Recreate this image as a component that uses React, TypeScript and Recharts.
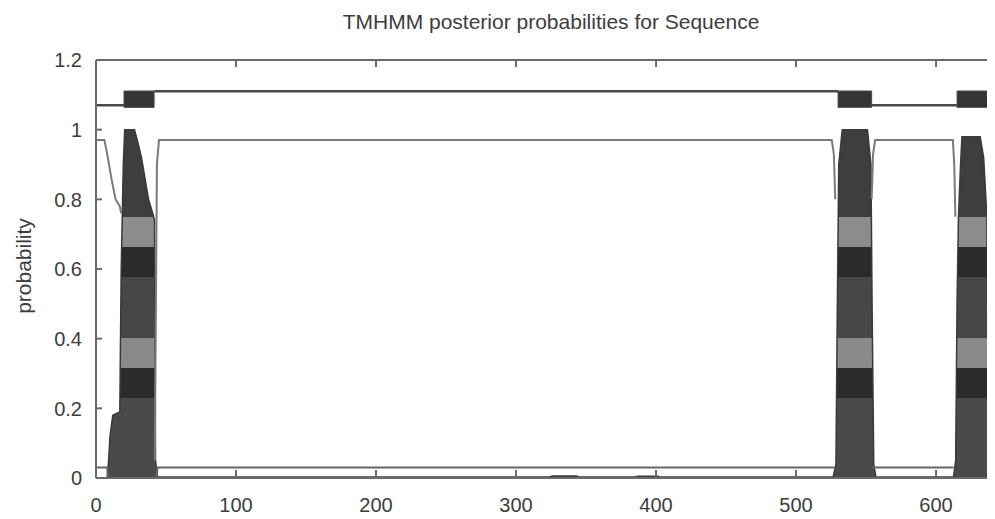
import React from 'react';
import { ComposedChart, Area, Line, XAxis, YAxis, ReferenceArea } from 'recharts';

// sequence positions / probabilities
const tmPos = [0, 8, 9, 10, 12, 17, 18, 19.5, 20.5, 27.5, 29.5, 32.5, 35, 37.5, 40.5, 41.8, 42.5, 44, 324, 326, 343, 345, 385, 387, 401, 403, 526.5, 528.5, 529.5, 530.5, 533, 551, 553.5, 554.3, 555.5, 557, 612.5, 614, 615, 616, 617.5, 618.5, 631.5, 634, 636.3, 637, 637.8, 642.1];
const tmProb = [0, 0, 0.05, 0.12, 0.18, 0.19, 0.6, 0.9, 1.0, 1.0, 0.97, 0.92, 0.86, 0.8, 0.76, 0.74, 0.05, 0.003, 0.003, 0.006, 0.006, 0.003, 0.003, 0.005, 0.005, 0.003, 0.003, 0.04, 0.5, 0.9, 1.0, 1.0, 0.9, 0.5, 0.04, 0.003, 0.003, 0.05, 0.5, 0.75, 0.9, 0.98, 0.98, 0.92, 0.75, 0.4, 0.03, 0.01];

const outPos = [0, 6, 8, 11, 14, 17, 18, 18, 42, 43.5, 45, 525.5, 527, 528, 528, 554, 555, 556.5, 612, 613, 613.8, 613.8, 638.3, 639, 642.1];
const outProb = [0.97, 0.97, 0.93, 0.86, 0.8, 0.78, 0.76, null, 0.05, 0.9, 0.97, 0.97, 0.93, 0.8, null, 0.8, 0.93, 0.97, 0.97, 0.9, 0.75, null, 0.75, 0.93, 0.93];

const inPos = [0, 8, 8.5, 10, 10, 43, 44, 527.5, 527.5, 554.5, 612.5, 612.5, 638.3, 642.1];
const inProb = [0.03, 0.03, 0, 0, null, 0, 0.03, 0.03, null, 0.03, 0.03, null, 0.04, 0.04];

// topology bar above the plot: inside / outside levels, helices as boxes
const topoPos = [0, 20, 20, 41.5, 530, 530, 554, 615, 615, 638, 642.1];
const topoLevel = [1.07, 1.07, null, 1.11, 1.11, null, 1.07, 1.07, null, 1.11, 1.11];
const helixStart = [20, 530, 615];
const helixEnd = [41.5, 554, 638];
const helixLow = 1.064;
const helixHigh = 1.111;

const xTicks = [0, 100, 200, 300, 400, 500, 600];
const yTicks = [0, 0.2, 0.4, 0.6, 0.8, 1, 1.2];

const zip = (xs: number[], ys: (number | null)[]) => xs.map((x, i) => ({ x, v: ys[i] }));

const tmData = zip(tmPos, tmProb);
const outData = zip(outPos, outProb);
const inData = zip(inPos, inProb);
const topoData = zip(topoPos, topoLevel);

const FONT = '"Liberation Sans", Arial, sans-serif';
const TEXT = '#3d3d3d';
const FRAME = '#6a6a6a';
const X_MARGIN = 20;
const Y_MARGIN = 14;

const BottomTick = (props: any) => {
  const { x, y, payload } = props;
  return (
    <g>
      <line x1={x} x2={x} y1={y - X_MARGIN} y2={y - X_MARGIN - 8} stroke={FRAME} strokeWidth={2} />
      <text x={x} y={y} dy="0.71em" textAnchor="middle" fill={TEXT} fontSize={20} fontFamily={FONT}>
        {payload.value}
      </text>
    </g>
  );
};

const TopTick = (props: any) => {
  const { x, y } = props;
  return <line x1={x} x2={x} y1={y} y2={y + 7} stroke={FRAME} strokeWidth={2} />;
};

const LeftTick = (props: any) => {
  const { x, y, payload } = props;
  return (
    <g>
      <line x1={x + Y_MARGIN} x2={x + Y_MARGIN + 6} y1={y} y2={y} stroke={FRAME} strokeWidth={2} />
      <text x={x} y={y} dy="0.36em" textAnchor="end" fill={TEXT} fontSize={20} fontFamily={FONT}>
        {String(payload.value)}
      </text>
    </g>
  );
};

export default function App() {
  return (
    <div style={{ position: 'relative', width: 987, height: 511 }}>
      <div
        style={{
          position: 'absolute', left: 543, top: 3, transform: 'translateX(-50%)',
          fontFamily: FONT, fontSize: 21, lineHeight: '21px', color: TEXT, whiteSpace: 'nowrap',
        }}
      >
        TMHMM posterior probabilities for Sequence
      </div>
      <div
        style={{
          position: 'absolute', left: 15, top: 258, transform: 'translate(-50%, -50%) rotate(-90deg)',
          fontFamily: FONT, fontSize: 21, lineHeight: '21px', color: TEXT, whiteSpace: 'nowrap',
        }}
      >
        probability
      </div>
      <ComposedChart width={987} height={511} margin={{ top: 22, right: 0, bottom: 0, left: 0 }}>
        <defs>
          <linearGradient id="tmBands" x1="0" y1="0" x2="0" y2="1">
            <stop offset="0" stopColor="#3e3e3e" />
            <stop offset="0.251" stopColor="#3e3e3e" />
            <stop offset="0.251" stopColor="#8c8c8c" />
            <stop offset="0.337" stopColor="#8c8c8c" />
            <stop offset="0.337" stopColor="#2b2b2b" />
            <stop offset="0.423" stopColor="#2b2b2b" />
            <stop offset="0.423" stopColor="#474747" />
            <stop offset="0.598" stopColor="#474747" />
            <stop offset="0.598" stopColor="#8a8a8a" />
            <stop offset="0.684" stopColor="#8a8a8a" />
            <stop offset="0.684" stopColor="#2b2b2b" />
            <stop offset="0.77" stopColor="#2b2b2b" />
            <stop offset="0.77" stopColor="#4a4a4a" />
            <stop offset="1" stopColor="#4a4a4a" />
          </linearGradient>
        </defs>
        <XAxis
          type="number" dataKey="x" domain={[0, 642.1]} ticks={xTicks} interval={0} allowDataOverflow
          height={41} tickSize={0} tickMargin={X_MARGIN} tickLine={false}
          axisLine={{ stroke: FRAME, strokeWidth: 2 }} tick={BottomTick}
        />
        <XAxis
          xAxisId="top" orientation="top" type="number" dataKey="x" domain={[0, 642.1]} ticks={xTicks}
          interval={0} allowDataOverflow height={30} tickSize={0} tickMargin={0} tickLine={false}
          axisLine={{ stroke: FRAME, strokeWidth: 2 }} tick={TopTick}
        />
        <YAxis
          type="number" domain={[0, 1.2]} ticks={yTicks} interval={0} allowDataOverflow width={88}
          tickSize={0} tickMargin={Y_MARGIN} tickLine={false}
          axisLine={{ stroke: FRAME, strokeWidth: 2 }} tick={LeftTick}
        />
        {helixStart.map((s, i) => (
          <ReferenceArea
            key={s} x1={s} x2={helixEnd[i]} y1={helixLow} y2={helixHigh}
            fill="#353535" fillOpacity={1} stroke="#4a4a4a" strokeWidth={1} ifOverflow="visible"
          />
        ))}
        <Line data={topoData} dataKey="v" type="linear" stroke="#4a4a4a" strokeWidth={2.5} dot={false} isAnimationActive={false} />
        <Line data={outData} dataKey="v" type="linear" stroke="#7a7a7a" strokeWidth={2} dot={false} isAnimationActive={false} />
        <Line data={inData} dataKey="v" type="linear" stroke="#666666" strokeWidth={2} dot={false} isAnimationActive={false} />
        <Area
          data={tmData} dataKey="v" type="linear" baseValue={0} stroke="#3a3a3a" strokeWidth={1.5}
          fill="url(#tmBands)" fillOpacity={1} dot={false} isAnimationActive={false}
        />
      </ComposedChart>
    </div>
  );
}
